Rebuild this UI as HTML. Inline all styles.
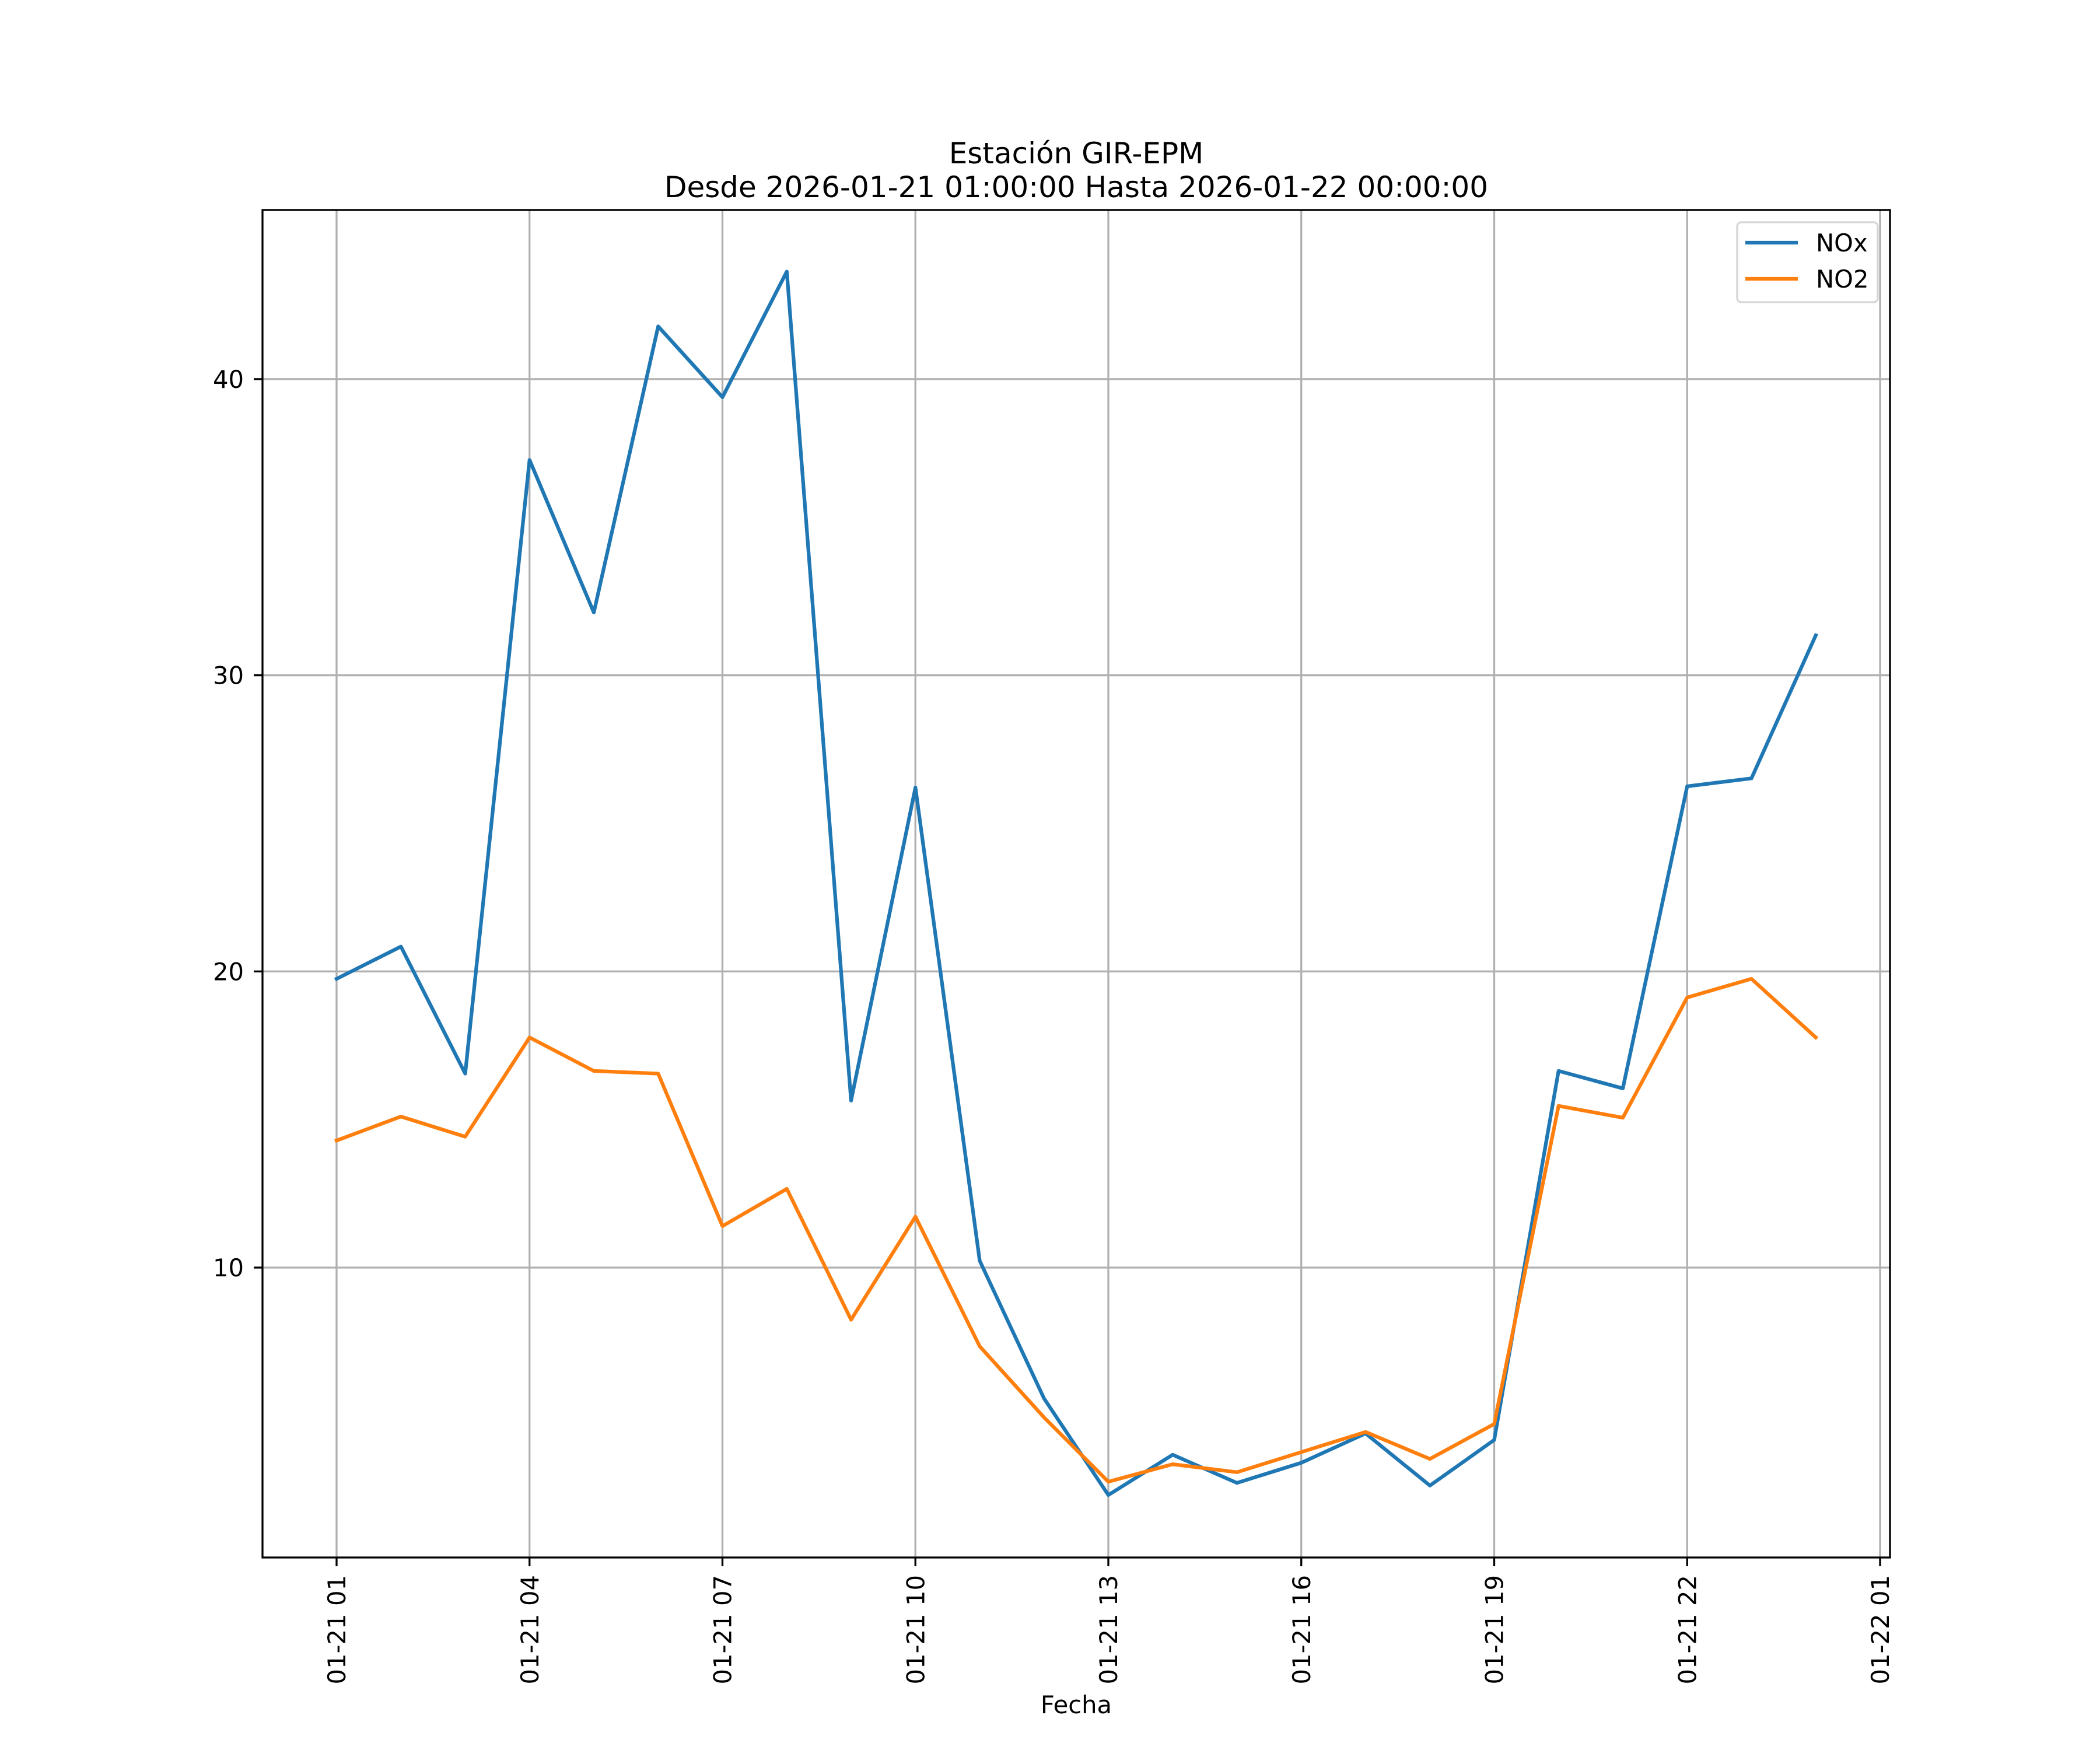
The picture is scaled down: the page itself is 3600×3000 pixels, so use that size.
<!DOCTYPE html>
<html><head><meta charset="utf-8"><style>html,body{margin:0;padding:0;background:#fff}svg{display:block}text{font-family:"DejaVu Sans","Liberation Sans",sans-serif}</style></head>
<body>
<svg id="chart" width="3600" height="3000" viewBox="0 0 3600 3000" xmlns="http://www.w3.org/2000/svg">
<rect width="3600" height="3000" fill="#fff"/>
<text x="1845" y="280" font-size="50" text-anchor="middle">Estación GIR-EPM</text>
<text x="1845" y="338" font-size="50" text-anchor="middle">Desde 2026-01-21 01:00:00 Hasta 2026-01-22 00:00:00</text>
<g id="grid"></g>
<g id="series"></g>
<rect x="450" y="360" width="2790" height="2310" fill="none" stroke="#000" stroke-width="3.3"/>
<g id="ticks"></g>
<text x="1845" y="2937" font-size="41.7" text-anchor="middle">Fecha</text>
<g>
<rect x="2978" y="381" width="241" height="137" rx="7" fill="#fff" fill-opacity="0.8" stroke="#d6d6d6" stroke-width="3.3"/>
<line x1="2992" y1="416" x2="3082" y2="416" stroke="#1f77b4" stroke-width="6.25"/>
<text x="3113" y="431" font-size="41.7">NOx</text>
<line x1="2992" y1="478" x2="3082" y2="478" stroke="#ff7f0e" stroke-width="6.25"/>
<text x="3113" y="493" font-size="41.7">NO2</text>
</g>
</svg>
<script>
const hours = [0,1,2,3,4,5,6,7,8,9,10,11,12,13,14,15,16,17,18,19,20,21,22,23];
const noxValues = [19.75,20.84,16.55,37.27,32.12,41.78,39.39,43.63,15.64,26.21,10.23,5.58,2.32,3.68,2.73,3.41,4.40,2.64,4.18,16.64,16.05,26.25,26.52,31.35];
const no2Values = [14.29,15.10,14.42,17.77,16.64,16.55,11.40,12.66,8.24,11.72,7.34,4.94,2.77,3.36,3.09,3.77,4.45,3.54,4.72,15.46,15.06,19.12,19.75,17.77];
const xTickHours = [0,3,6,9,12,15,18,21,24];
const xTickLabels = ["01-21 01","01-21 04","01-21 07","01-21 10","01-21 13","01-21 16","01-21 19","01-21 22","01-22 01"];
const yTicks = [10,20,30,40];

const NS = "http://www.w3.org/2000/svg";
const X0 = 577, XPH = 110.25, Y0 = 2680.7, YPU = 50.77;
function xs(h){return X0 + h*XPH;}
function ys(v){return Y0 - v*YPU;}
function mk(tag, attrs, parent){const e=document.createElementNS(NS,tag);for(const k in attrs)e.setAttribute(k,attrs[k]);parent.appendChild(e);return e;}
const grid=document.getElementById('grid'), ticks=document.getElementById('ticks'), series=document.getElementById('series');

xTickHours.forEach((h,i)=>{
  const x=xs(h);
  const g=mk('line',{x1:x,y1:360,x2:x,y2:2670,stroke:'#b0b0b0','stroke-width':3.3},grid);
  
  
  const t=mk('line',{x1:x,y1:2670,x2:x,y2:2685,stroke:'#000','stroke-width':3.3},ticks);
  
  
  const l=mk('text',{x:0,y:0,'font-size':41.7,'text-anchor':'end',transform:`translate(${x+15},2700) rotate(-90)`},ticks);
  l.textContent=xTickLabels[i];
  
  
});
yTicks.forEach(v=>{
  const y=ys(v);
  const g=mk('line',{x1:450,y1:y,x2:3240,y2:y,stroke:'#b0b0b0','stroke-width':3.3},grid);
  
  
  const t=mk('line',{x1:435,y1:y,x2:450,y2:y,stroke:'#000','stroke-width':3.3},ticks);
  
  
  const l=mk('text',{x:418,y:y+15,'font-size':41.7,'text-anchor':'end'},ticks);
  l.textContent=String(v);
  
  
});
function drawLine(vals,color,name){
  const pts=vals.map((v,i)=>xs(hours[i]).toFixed(1)+','+ys(v).toFixed(1)).join(' ');
  const p=mk('polyline',{points:pts,fill:'none',stroke:color,'stroke-width':6.25,'stroke-linejoin':'round','stroke-linecap':'square'},series);
  
  
}
drawLine(noxValues,'#1f77b4','nox-line');
drawLine(no2Values,'#ff7f0e','no2-line');
</script>
</body></html>
